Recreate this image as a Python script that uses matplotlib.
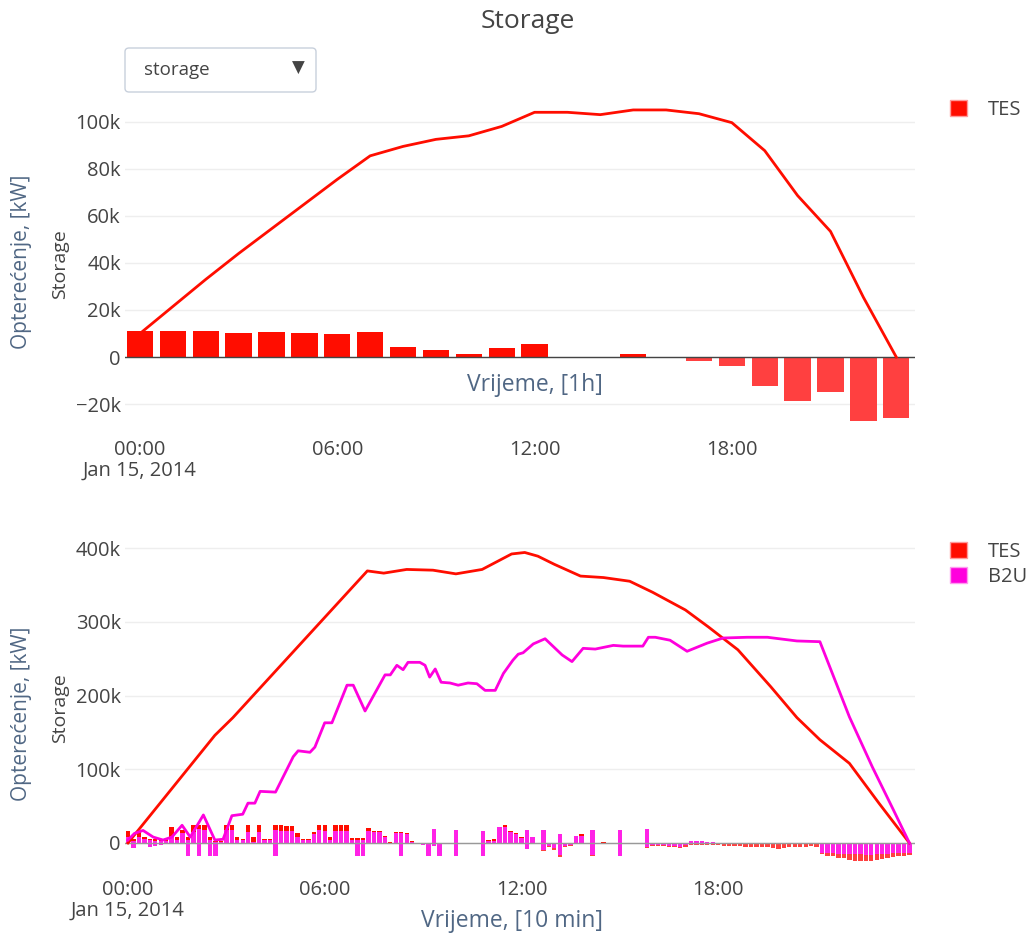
import matplotlib.pyplot as plt
from matplotlib.patches import FancyBboxPatch, Patch
import numpy as np

plt.rcParams['font.family'] = ['Open Sans', 'DejaVu Sans']

# ---- hourly data (top panel), values in k kW ----
hours = list(range(24))
tes_hour_bars = [11, 11, 11, 10.2, 10.6, 10.2, 10, 10.5, 4.2, 3, 1.2, 3.8,
                 5.5, 0, -0.4, 1.5, 0, -1.5, -3.8, -12.2, -18.8, -15, -27.3, -26]
tes_hour_line = [10, 21.5, 33, 44, 54.5, 65, 75.5, 85.5, 89.5, 92.5, 94, 98,
                 104, 104, 103, 105, 105, 103.4, 99.6, 87.7, 68.6, 53.4, 25.4, 0]

# ---- 10 min data (bottom panel), values in k kW ----
tes_10min_bars = [16, 5, 16, 8, 6, 5, 5, 5, 21, 8, 17, 8,
                  24, 24, 24, 8, 2, 2, 24, 24, 8, 6, 24, 8,
                  24, 6, 6, 24, 24, 23, 23, 13, 6, 6, 15, 24,
                  24, 8, 24, 24, 24, 7, 7, 7, 20, 16, 16, 9,
                  1, 15, 15, 13, 2, 0, -2, -1, 0, -1, -2, -2,
                  0, 0, -1, -1, 0, 0, 4, 6, 22, 24, 16, 13,
                  8, -2, 8, -1, -11, -6, -9, -19, -5, -4, 10, 12,
                  -2, -18, 0, 1, 0, 0, 0, 0, 0, -1, -2, -7,
                  -4, -4, -4, -5, -6, -7, -5, -3, -3, -3, -3, -3,
                  -3, -4, -4, -4, -4, -5, -5, -5, -6, -6, -7, -8,
                  -7, -6, -5, -6, -5, -4, -5, -15, -17, -18, -20, -21,
                  -23, -24, -25, -25, -24, -23, -22, -20, -19, -18, -17, -16]
b2u_10min_bars = [8, 3, 8, 6, 4, 3, 3, 3, 8, 4, 13, 4,
                  15, 19, 17, 4, 1, 1, 17, 17, 4, 4, 15, 1,
                  15, 4, 4, 17, 16, 16, 16, 8, 4, 4, 12, 17,
                  16, 4, 16, 16, 16, 4, 4, 4, 16, 15, 15, 8,
                  0, 14, 14, 12, 1, 0, -3, 0, 19, 0, -1, -1,
                  18, 0, 0, 0, 0, 16, 3, 2, 21, 22, 15, 12,
                  7, 18, 8, 0, 18, -4, -7, 12, -4, -3, 9, 10,
                  -1, 18, 0, 0, 0, 0, 18, 0, 0, 0, 0, 19.5,
                  -3, -3, -3, -4, -4, -5, -3, 2, 2, 2, 1, 1,
                  -1, -1, -1, -1, -1, -1, -1, -1, -1, -1, -1, -1,
                  -1, -1, -1, -1, -1, -1, -1, -14, -14, -14, -15, -15,
                  -15, -15, -15, -16, -16, -15, -15, -15, -14, -14, -14, -14]
b2u_10min_dips = [0, -7, 0, 0, -5, -4, -3, 0, 0, 0, 0, -17,
                  0, -17, 0, -17, -17, 0, 0, 0, 0, 0, 0, 0,
                  0, 0, 0, -17, 0, 0, 0, 0, 0, 0, 0, 0,
                  0, 0, 0, 0, 0, 0, -17, -17, 0, 0, 0, 0,
                  0, 0, -17, 0, 0, 0, 0, -17, -4, -17, 0, 0,
                  -17, 0, 0, 0, 0, -17, 0, 0, 0, 0, 0, 0,
                  0, -8, 0, 0, -10, 0, 0, -16, 0, 0, 0, 0,
                  0, -16, 0, 0, 0, 0, -17, 0, 0, 0, 0, -5,
                  0, 0, 0, 0, 0, 0, 0, 0, 0, 0, 0, 0,
                  0, 0, 0, 0, 0, 0, 0, 0, 0, 0, 0, 0,
                  0, 0, 0, 0, 0, 0, 0, 0, 0, 0, 0, 0,
                  0, 0, 0, 0, 0, 0, 0, 0, 0, 0, 0, 0]

# line vertices (hour, k kW)
tes_line_h = [0, 2.65, 3.2, 7.3, 7.8, 8.5, 9.3, 10.0, 10.8, 11.7, 12.1, 12.5,
              13.0, 13.8, 14.5, 15.3, 16.0, 17.0, 17.7, 18.6, 19.6, 20.4, 21.1,
              22.0, 22.9, 23.83]
tes_line_v = [0, 146, 170, 369, 366, 371, 370, 365, 371, 392, 394, 389,
              378, 362, 360, 355, 340, 316, 293, 262, 212, 170, 140,
              108, 54, 0]
b2u_line_h = [0, 0.2, 0.46, 0.77, 1.07, 1.34, 1.65, 1.9, 2.3, 2.65, 2.9, 3.17,
              3.5, 3.66, 3.87, 4.03, 4.5, 5.04, 5.19, 5.55, 5.7, 6.0, 6.22,
              6.68, 6.87, 7.23, 7.84, 8.0, 8.2, 8.39, 8.54, 8.9, 9.06, 9.2,
              9.37, 9.55, 9.82, 10.07, 10.37, 10.64, 10.89, 11.2, 11.45, 11.74,
              11.9, 12.05, 12.36, 12.72, 13.24, 13.54, 13.88, 14.25, 14.8, 15.1,
              15.7, 15.87, 16.08, 16.53, 17.05, 17.66, 18.15, 18.88, 19.5, 20.4,
              21.1, 22.0, 22.7, 23.34, 23.83]
b2u_line_v = [4, 13, 17, 8, 4, 8, 24, 8, 38, 4, 5, 37,
              39, 54, 54, 70, 69, 117, 125, 123, 130, 163, 163,
              214, 214, 179, 228, 228, 241, 235, 245, 245, 241, 225,
              236, 218, 217, 214, 217, 216, 207, 207, 230, 248,
              256, 258, 270, 277, 255, 246, 264, 263, 268, 267,
              267, 279, 279, 275, 260, 271, 278, 279, 279, 274,
              273, 171, 103, 45, 0]

RED = '#ff0d00'
RED_NEG = '#ff4040'
MAG = '#ff00dd'
MAG_BAR = '#ff22e6'
GRID = '#eeeeee'
TXT = '#444444'
BLUE = '#506784'

W, H = 1027, 935


def box(l, t, r, b):
    return [l / W, 1 - b / H, (r - l) / W, (b - t) / H]


def fx(x):
    return x / W


def fy(y):
    return 1 - y / H


def kfmt(v):
    return ('%dk' % v if v != 0 else '0').replace('-', '\u2212')


fig = plt.figure(figsize=(W / 100, H / 100), dpi=100)

ax1 = fig.add_axes(box(125, 97, 915, 430))
ax2 = fig.add_axes(box(125, 537, 915, 869))

for ax in (ax1, ax2):
    for s in ax.spines.values():
        s.set_visible(False)
    ax.tick_params(length=0, labelsize=14.5, labelcolor=TXT)
    ax.grid(axis='y', color=GRID, lw=1)
    ax.set_axisbelow(True)

# ---- top panel ----
ax1.bar(hours, tes_hour_bars, width=0.8,
        color=[RED if v >= 0 else RED_NEG for v in tes_hour_bars], zorder=2)
ax1.axhline(0, color=TXT, lw=1, zorder=3)
ax1.plot(hours, tes_hour_line, color=RED, lw=2, zorder=4)
ax1.set_xlim(-0.456, 23.57)
ax1.set_ylim(-31, 110.5)
yt1 = [-20, 0, 20, 40, 60, 80, 100]
ax1.set_yticks(yt1)
ax1.set_yticklabels([kfmt(v) for v in yt1])
ax1.set_xticks([0, 6, 12, 18])
ax1.set_xticklabels(['00:00\nJan 15, 2014', '06:00', '12:00', '18:00'],
                    va='top', linespacing=1.05)
ax1.tick_params(axis='x', pad=7)
ax1.tick_params(axis='y', pad=3)

# ---- bottom panel ----
t10 = np.arange(len(tes_10min_bars)) / 6.0
bw = 0.8 / 6
ax2.bar(t10, tes_10min_bars, width=bw,
        color=[RED if v >= 0 else RED_NEG for v in tes_10min_bars], zorder=2)
ax2.bar(t10, b2u_10min_bars, width=bw, color=MAG_BAR, zorder=2)
ax2.bar(t10, b2u_10min_dips, width=bw, color=MAG_BAR, zorder=2)
ax2.axhline(0, color='#999999', lw=1, zorder=3)
ax2.plot(tes_line_h, tes_line_v, color=RED, lw=2, zorder=4)
ax2.plot(b2u_line_h, b2u_line_v, color=MAG, lw=2, zorder=4)
ax2.set_xlim(-0.09, 24.0)
ax2.set_ylim(-35.3, 415)
yt2 = [0, 100, 200, 300, 400]
ax2.set_yticks(yt2)
ax2.set_yticklabels([kfmt(v) for v in yt2])
ax2.set_xticks([0, 6, 12, 18])
ax2.set_xticklabels(['00:00\nJan 15, 2014', '06:00', '12:00', '18:00'],
                    va='top', linespacing=1.05)
ax2.tick_params(axis='x', pad=8)
ax2.tick_params(axis='y', pad=3)

# legends
leg_kw = dict(loc='upper left', frameon=False, fontsize=14.5, handlelength=0.85,
              handleheight=0.85, handletextpad=1.05, labelcolor=TXT,
              borderaxespad=0, borderpad=0)
fig.legend(handles=[Patch(facecolor=RED, edgecolor='#ff9a9a', label='TES')],
           bbox_to_anchor=(fx(950), fy(100)), **leg_kw)
fig.legend(handles=[Patch(facecolor=RED, edgecolor='#ff9a9a', label='TES'),
                    Patch(facecolor=MAG, edgecolor='#ff9af0', label='B2U')],
           bbox_to_anchor=(fx(950), fy(542)), labelspacing=0.25, **leg_kw)

# titles and axis texts
fig.text(fx(528), fy(21), 'Storage', ha='center', va='center', fontsize=19, color=TXT)
fig.text(fx(535), fy(385), 'Vrijeme, [1h]', ha='center', va='center', fontsize=16.5, color=BLUE)
fig.text(fx(512), fy(921), 'Vrijeme, [10 min]', ha='center', va='center', fontsize=16.5, color=BLUE)
for yc, ys in ((262, 264), (714, 708)):
    fig.text(fx(22), fy(yc), 'Opterećenje, [kW]', rotation=90, ha='center',
             va='center', fontsize=15, color=BLUE)
    fig.text(fx(60), fy(ys), 'Storage', rotation=90, ha='center',
             va='center', fontsize=14, color=TXT)

# dropdown
fig.add_artist(FancyBboxPatch((fx(125), fy(92)), fx(316) - fx(125), fy(48) - fy(92),
                              boxstyle='round,pad=0,rounding_size=0.004',
                              transform=fig.transFigure, facecolor='white',
                              edgecolor='#c8d0dc', lw=1))
fig.text(fx(144), fy(70), 'storage', ha='left', va='center', fontsize=13.5, color=TXT)
fig.text(fx(298), fy(68), '\u25bc', ha='center', va='center', fontsize=12,
         color=TXT, family=['DejaVu Sans'])

fig.savefig('out.png', dpi=100)
